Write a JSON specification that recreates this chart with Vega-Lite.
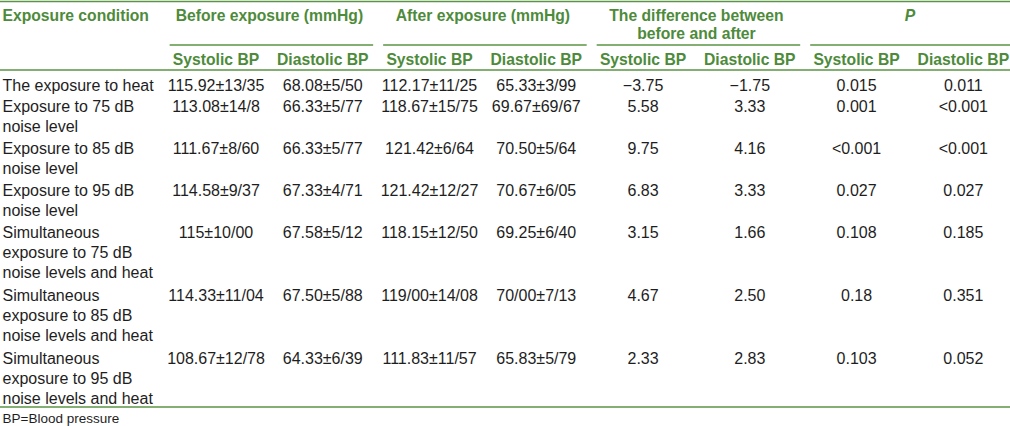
{
  "$schema": "https://vega.github.io/schema/vega-lite/v6.json",
  "width": 1010,
  "height": 426,
  "autosize": {"type": "none"},
  "padding": 0,
  "background": "white",
  "config": {"view": {"stroke": null}, "text": {"font": "Liberation Sans"}},
  "datasets": {
    "table": [
      {"row": "r1", "cond": "The exposure to heat", "bs": "115.92±13/35", "bd": "68.08±5/50", "as": "112.17±11/25", "ad": "65.33±3/99", "ds": "−3.75", "dd": "−1.75", "ps": "0.015", "pd": "0.011"},
      {"row": "r2", "cond": "Exposure to 75 dB\nnoise level", "bs": "113.08±14/8", "bd": "66.33±5/77", "as": "118.67±15/75", "ad": "69.67±69/67", "ds": "5.58", "dd": "3.33", "ps": "0.001", "pd": "<0.001"},
      {"row": "r3", "cond": "Exposure to 85 dB\nnoise level", "bs": "111.67±8/60", "bd": "66.33±5/77", "as": "121.42±6/64", "ad": "70.50±5/64", "ds": "9.75", "dd": "4.16", "ps": "<0.001", "pd": "<0.001"},
      {"row": "r4", "cond": "Exposure to 95 dB\nnoise level", "bs": "114.58±9/37", "bd": "67.33±4/71", "as": "121.42±12/27", "ad": "70.67±6/05", "ds": "6.83", "dd": "3.33", "ps": "0.027", "pd": "0.027"},
      {"row": "r5", "cond": "Simultaneous\nexposure to 75 dB\nnoise levels and heat", "bs": "115±10/00", "bd": "67.58±5/12", "as": "118.15±12/50", "ad": "69.25±6/40", "ds": "3.15", "dd": "1.66", "ps": "0.108", "pd": "0.185"},
      {"row": "r6", "cond": "Simultaneous\nexposure to 85 dB\nnoise levels and heat", "bs": "114.33±11/04", "bd": "67.50±5/88", "as": "119/00±14/08", "ad": "70/00±7/13", "ds": "4.67", "dd": "2.50", "ps": "0.18", "pd": "0.351"},
      {"row": "r7", "cond": "Simultaneous\nexposure to 95 dB\nnoise levels and heat", "bs": "108.67±12/78", "bd": "64.33±6/39", "as": "111.83±11/57", "ad": "65.83±5/79", "ds": "2.33", "dd": "2.83", "ps": "0.103", "pd": "0.052"}
    ],
    "groups": [
      {"col": "gb", "row": "h1", "text": "Before exposure (mmHg)"},
      {"col": "ga", "row": "h1", "text": "After exposure (mmHg)"},
      {"col": "gd", "row": "h1", "text": "The difference between\nbefore and after"}
    ],
    "subs": [
      {"col": "bs", "row": "h2", "text": "Systolic BP"},
      {"col": "bd", "row": "h2", "text": "Diastolic BP"},
      {"col": "as", "row": "h2", "text": "Systolic BP"},
      {"col": "ad", "row": "h2", "text": "Diastolic BP"},
      {"col": "ds", "row": "h2", "text": "Systolic BP"},
      {"col": "dd", "row": "h2", "text": "Diastolic BP"},
      {"col": "ps", "row": "h2", "text": "Systolic BP"},
      {"col": "pd", "row": "h2", "text": "Diastolic BP"}
    ],
    "sublines": [
      {"row": "sub", "col": "c3", "col2": "c7"},
      {"row": "sub", "col": "c7", "col2": "c11"},
      {"row": "sub", "col": "c11", "col2": "c15"},
      {"row": "sub", "col": "c15", "col2": "R"}
    ]
  },
  "layer": [
    {
      "data": {"values": [{"row": "top"}]},
      "mark": {"type": "rule", "color": "#5a9444", "strokeWidth": 1.5, "yOffset": 1},
      "encoding": {
        "y": {"field": "row", "type": "nominal", "axis": null, "scale": {"type": "point", "padding": 0, "range": [0.5, 420.5], "domain": ["top","h1","_2","_3","sub","h2","_6","head","r1","_9","r2","_11","_12","_13","r3","_15","_16","_17","r4","_19","_20","_21","r5","_23","_24","_25","_26","_27","r6","_29","_30","_31","_32","_33","r7","_35","_36","_37","_38","bottom","foot"]}}
      }
    },
    {
      "data": {"values": [{"row": "head"}]},
      "mark": {"type": "rule", "color": "#5a9444", "strokeWidth": 1.5, "yOffset": -4},
      "encoding": {
        "y": {"field": "row", "type": "nominal", "axis": null, "scale": {"type": "point", "padding": 0, "range": [0.5, 420.5], "domain": ["top","h1","_2","_3","sub","h2","_6","head","r1","_9","r2","_11","_12","_13","r3","_15","_16","_17","r4","_19","_20","_21","r5","_23","_24","_25","_26","_27","r6","_29","_30","_31","_32","_33","r7","_35","_36","_37","_38","bottom","foot"]}}
      }
    },
    {
      "data": {"values": [{"row": "bottom"}]},
      "mark": {"type": "rule", "color": "#5a9444", "strokeWidth": 1.5, "yOffset": -3},
      "encoding": {
        "y": {"field": "row", "type": "nominal", "axis": null, "scale": {"type": "point", "padding": 0, "range": [0.5, 420.5], "domain": ["top","h1","_2","_3","sub","h2","_6","head","r1","_9","r2","_11","_12","_13","r3","_15","_16","_17","r4","_19","_20","_21","r5","_23","_24","_25","_26","_27","r6","_29","_30","_31","_32","_33","r7","_35","_36","_37","_38","bottom","foot"]}}
      }
    },
    {
      "data": {"name": "sublines"},
      "mark": {"type": "rule", "color": "#5a9444", "strokeWidth": 1.5, "yOffset": 2.5, "xOffset": 7, "x2Offset": -3},
      "encoding": {
        "x": {"field": "col", "type": "nominal", "axis": null, "scale": {"type": "point", "padding": 0, "range": [2.5, 1016.7], "domain": ["cond","_x1","_x2","c3","bs","gb","bd","c7","as","ga","ad","c11","ds","gd","dd","c15","ps","gp","pd","R"]}},
        "x2": {"field": "col2"},
        "y": {"field": "row", "type": "nominal", "axis": null, "scale": {"type": "point", "padding": 0, "range": [0.5, 420.5], "domain": ["top","h1","_2","_3","sub","h2","_6","head","r1","_9","r2","_11","_12","_13","r3","_15","_16","_17","r4","_19","_20","_21","r5","_23","_24","_25","_26","_27","r6","_29","_30","_31","_32","_33","r7","_35","_36","_37","_38","bottom","foot"]}}
      }
    },
    {
      "data": {"name": "groups"},
      "mark": {"type": "text", "align": "center", "baseline": "top", "dy": -2, "fontSize": 15.7, "fontWeight": "bold", "color": "#4d8b3b", "lineBreak": "\n", "lineHeight": 18},
      "encoding": {
        "x": {"field": "col", "type": "nominal", "axis": null, "scale": {"type": "point", "padding": 0, "range": [2.5, 1016.7], "domain": ["cond","_x1","_x2","c3","bs","gb","bd","c7","as","ga","ad","c11","ds","gd","dd","c15","ps","gp","pd","R"]}},
        "y": {"field": "row", "type": "nominal", "axis": null, "scale": {"type": "point", "padding": 0, "range": [0.5, 420.5], "domain": ["top","h1","_2","_3","sub","h2","_6","head","r1","_9","r2","_11","_12","_13","r3","_15","_16","_17","r4","_19","_20","_21","r5","_23","_24","_25","_26","_27","r6","_29","_30","_31","_32","_33","r7","_35","_36","_37","_38","bottom","foot"]}},
        "text": {"field": "text"}
      }
    },
    {
      "data": {"values": [{"col": "gp", "row": "h1", "text": "P"}]},
      "mark": {"type": "text", "align": "center", "baseline": "top", "dy": -2, "fontSize": 15.7, "fontWeight": "bold", "fontStyle": "italic", "color": "#4d8b3b"},
      "encoding": {
        "x": {"field": "col", "type": "nominal", "axis": null, "scale": {"type": "point", "padding": 0, "range": [2.5, 1016.7], "domain": ["cond","_x1","_x2","c3","bs","gb","bd","c7","as","ga","ad","c11","ds","gd","dd","c15","ps","gp","pd","R"]}},
        "y": {"field": "row", "type": "nominal", "axis": null, "scale": {"type": "point", "padding": 0, "range": [0.5, 420.5], "domain": ["top","h1","_2","_3","sub","h2","_6","head","r1","_9","r2","_11","_12","_13","r3","_15","_16","_17","r4","_19","_20","_21","r5","_23","_24","_25","_26","_27","r6","_29","_30","_31","_32","_33","r7","_35","_36","_37","_38","bottom","foot"]}},
        "text": {"field": "text"}
      }
    },
    {
      "data": {"values": [{"col": "cond", "row": "h1", "text": "Exposure condition"}]},
      "mark": {"type": "text", "align": "left", "baseline": "top", "dy": -2, "fontSize": 15.7, "fontWeight": "bold", "color": "#4d8b3b"},
      "encoding": {
        "x": {"field": "col", "type": "nominal", "axis": null, "scale": {"type": "point", "padding": 0, "range": [2.5, 1016.7], "domain": ["cond","_x1","_x2","c3","bs","gb","bd","c7","as","ga","ad","c11","ds","gd","dd","c15","ps","gp","pd","R"]}},
        "y": {"field": "row", "type": "nominal", "axis": null, "scale": {"type": "point", "padding": 0, "range": [0.5, 420.5], "domain": ["top","h1","_2","_3","sub","h2","_6","head","r1","_9","r2","_11","_12","_13","r3","_15","_16","_17","r4","_19","_20","_21","r5","_23","_24","_25","_26","_27","r6","_29","_30","_31","_32","_33","r7","_35","_36","_37","_38","bottom","foot"]}},
        "text": {"field": "text"}
      }
    },
    {
      "data": {"name": "subs"},
      "mark": {"type": "text", "align": "center", "baseline": "top", "fontSize": 15.7, "fontWeight": "bold", "color": "#4d8b3b"},
      "encoding": {
        "x": {"field": "col", "type": "nominal", "axis": null, "scale": {"type": "point", "padding": 0, "range": [2.5, 1016.7], "domain": ["cond","_x1","_x2","c3","bs","gb","bd","c7","as","ga","ad","c11","ds","gd","dd","c15","ps","gp","pd","R"]}},
        "y": {"field": "row", "type": "nominal", "axis": null, "scale": {"type": "point", "padding": 0, "range": [0.5, 420.5], "domain": ["top","h1","_2","_3","sub","h2","_6","head","r1","_9","r2","_11","_12","_13","r3","_15","_16","_17","r4","_19","_20","_21","r5","_23","_24","_25","_26","_27","r6","_29","_30","_31","_32","_33","r7","_35","_36","_37","_38","bottom","foot"]}},
        "text": {"field": "text"}
      }
    },
    {
      "data": {"name": "table"},
      "mark": {"type": "text", "align": "left", "baseline": "top", "dy": -7, "fontSize": 16, "color": "#1e1e1e", "lineBreak": "\n", "lineHeight": 20},
      "encoding": {
        "x": {"datum": "cond", "type": "nominal", "axis": null, "scale": {"type": "point", "padding": 0, "range": [2.5, 1016.7], "domain": ["cond","_x1","_x2","c3","bs","gb","bd","c7","as","ga","ad","c11","ds","gd","dd","c15","ps","gp","pd","R"]}},
        "y": {"field": "row", "type": "nominal", "axis": null, "scale": {"type": "point", "padding": 0, "range": [0.5, 420.5], "domain": ["top","h1","_2","_3","sub","h2","_6","head","r1","_9","r2","_11","_12","_13","r3","_15","_16","_17","r4","_19","_20","_21","r5","_23","_24","_25","_26","_27","r6","_29","_30","_31","_32","_33","r7","_35","_36","_37","_38","bottom","foot"]}},
        "text": {"field": "cond"}
      }
    },
    {
      "data": {"name": "table"},
      "transform": [{"fold": ["bs", "bd", "as", "ad", "ds", "dd", "ps", "pd"], "as": ["col", "val"]}],
      "mark": {"type": "text", "align": "center", "baseline": "top", "dy": -7, "fontSize": 16, "color": "#1e1e1e"},
      "encoding": {
        "x": {"field": "col", "type": "nominal", "axis": null, "scale": {"type": "point", "padding": 0, "range": [2.5, 1016.7], "domain": ["cond","_x1","_x2","c3","bs","gb","bd","c7","as","ga","ad","c11","ds","gd","dd","c15","ps","gp","pd","R"]}},
        "y": {"field": "row", "type": "nominal", "axis": null, "scale": {"type": "point", "padding": 0, "range": [0.5, 420.5], "domain": ["top","h1","_2","_3","sub","h2","_6","head","r1","_9","r2","_11","_12","_13","r3","_15","_16","_17","r4","_19","_20","_21","r5","_23","_24","_25","_26","_27","r6","_29","_30","_31","_32","_33","r7","_35","_36","_37","_38","bottom","foot"]}},
        "text": {"field": "val"}
      }
    },
    {
      "data": {"values": [{"col": "cond", "row": "foot", "text": "BP=Blood pressure"}]},
      "mark": {"type": "text", "align": "left", "baseline": "middle", "dy": -2, "fontSize": 13.5, "color": "#1e1e1e"},
      "encoding": {
        "x": {"field": "col", "type": "nominal", "axis": null, "scale": {"type": "point", "padding": 0, "range": [2.5, 1016.7], "domain": ["cond","_x1","_x2","c3","bs","gb","bd","c7","as","ga","ad","c11","ds","gd","dd","c15","ps","gp","pd","R"]}},
        "y": {"field": "row", "type": "nominal", "axis": null, "scale": {"type": "point", "padding": 0, "range": [0.5, 420.5], "domain": ["top","h1","_2","_3","sub","h2","_6","head","r1","_9","r2","_11","_12","_13","r3","_15","_16","_17","r4","_19","_20","_21","r5","_23","_24","_25","_26","_27","r6","_29","_30","_31","_32","_33","r7","_35","_36","_37","_38","bottom","foot"]}},
        "text": {"field": "text"}
      }
    }
  ]
}
